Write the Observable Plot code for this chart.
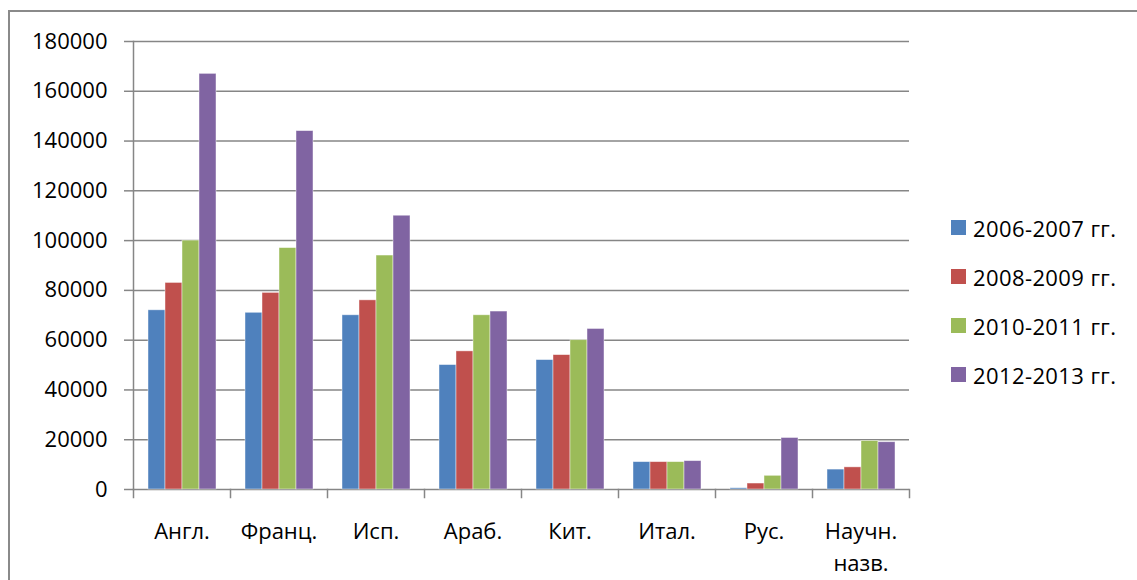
<!DOCTYPE html>
<html>
<head>
<meta charset="utf-8">
<script src="https://cdn.jsdelivr.net/npm/d3@7"></script>
<script src="https://cdn.jsdelivr.net/npm/@observablehq/plot@0.6"></script>
<style>
  html, body { margin: 0; padding: 0; background: #fff; }
  #wrap { position: relative; width: 1137px; height: 580px; overflow: hidden; font-family: "Open Sans", sans-serif; }
  #border { position: absolute; left: 8px; top: 10px; width: 1140px; height: 600px; border: 2px solid #8a8a8a; box-sizing: border-box; pointer-events: none; }
  #chart { position: absolute; left: 0; top: 0; }
  #legend { position: absolute; left: 951px; top: 203px; font-size: 22px; color: #000; letter-spacing: 0.4px; }
  #legend .row { display: flex; align-items: center; height: 49px; }
  #legend .sw { width: 15px; height: 15px; margin-right: 7px; }
</style>
</head>
<body>
<div id="wrap">
  <div id="border"></div>
  <div id="chart"></div>
  <div id="legend"></div>
</div>
<script>
const categories = ["Англ.", "Франц.", "Исп.", "Араб.", "Кит.", "Итал.", "Рус.", "Научн.\nназв."];
const series = ["2006-2007 гг.", "2008-2009 гг.", "2010-2011 гг.", "2012-2013 гг."];
const v2006 = [72000, 71000, 70000, 50000, 52000, 11000, 500, 8000];
const v2008 = [83000, 79000, 76000, 55500, 54000, 11000, 2400, 8900];
const v2010 = [100000, 97000, 94000, 70000, 60000, 11000, 5500, 19500];
const v2012 = [167000, 144000, 110000, 71500, 64500, 11400, 20700, 19000];
const yTicks = [0, 20000, 40000, 60000, 80000, 100000, 120000, 140000, 160000, 180000];
const colors = ["#4F81BD", "#C0504D", "#9BBB59", "#8064A2"];

const seriesValues = [v2006, v2008, v2010, v2012];
const data = categories.flatMap((c, i) => series.map((s, j) => ({cat: c, series: s, value: seriesValues[j][i]})));

const gridColor = "#868686";
const plotHeight = 580, mTop = 41, mBottom = 91;

const chart = Plot.plot({
  width: 1137,
  height: plotHeight,
  marginLeft: 133,
  marginRight: 228,
  marginTop: mTop,
  marginBottom: mBottom,
  style: {fontFamily: "Open Sans, sans-serif", fontSize: "22px", color: "#000", background: "transparent", overflow: "visible"},
  fx: {domain: categories, padding: 0, label: null},
  x: {domain: series, paddingInner: 0, paddingOuter: 0.75, axis: null},
  y: {domain: [0, 180000], axis: null},
  color: {domain: series, range: colors},
  marks: [
    Plot.ruleY(yTicks, {stroke: gridColor, strokeWidth: 1.5}),
    Plot.barY(data, {fx: "cat", x: "series", y: "value", fill: "series", stroke: "#ffffff", strokeOpacity: 0.55, strokeWidth: 0.8}),
    Plot.frame({anchor: "left", facetAnchor: "left", stroke: gridColor, strokeWidth: 1.5}),
    Plot.frame({anchor: "left", insetTop: plotHeight - mTop - mBottom, insetBottom: -8, stroke: gridColor, strokeWidth: 1.5}),
    Plot.frame({anchor: "right", facetAnchor: "right", insetTop: plotHeight - mTop - mBottom, insetBottom: -8, stroke: gridColor, strokeWidth: 1.5}),
    Plot.axisY({ticks: yTicks, tickSize: 9, tickPadding: 17, tickFormat: "d", stroke: gridColor, strokeWidth: 1.5, label: null, fontSize: 22}),
    Plot.axisFx({anchor: "bottom", tickSize: 0, tickPadding: 27, label: null, fontSize: 22, lineHeight: 1.45})
  ]
});
document.getElementById("chart").appendChild(chart);

const legend = document.getElementById("legend");
series.forEach((s, i) => {
  const row = document.createElement("div");
  row.className = "row";
  const sw = document.createElement("div");
  sw.className = "sw";
  sw.style.background = colors[i];
  const t = document.createElement("span");
  t.textContent = s;
  row.appendChild(sw);
  row.appendChild(t);
  legend.appendChild(row);
});
</script>
</body>
</html>
